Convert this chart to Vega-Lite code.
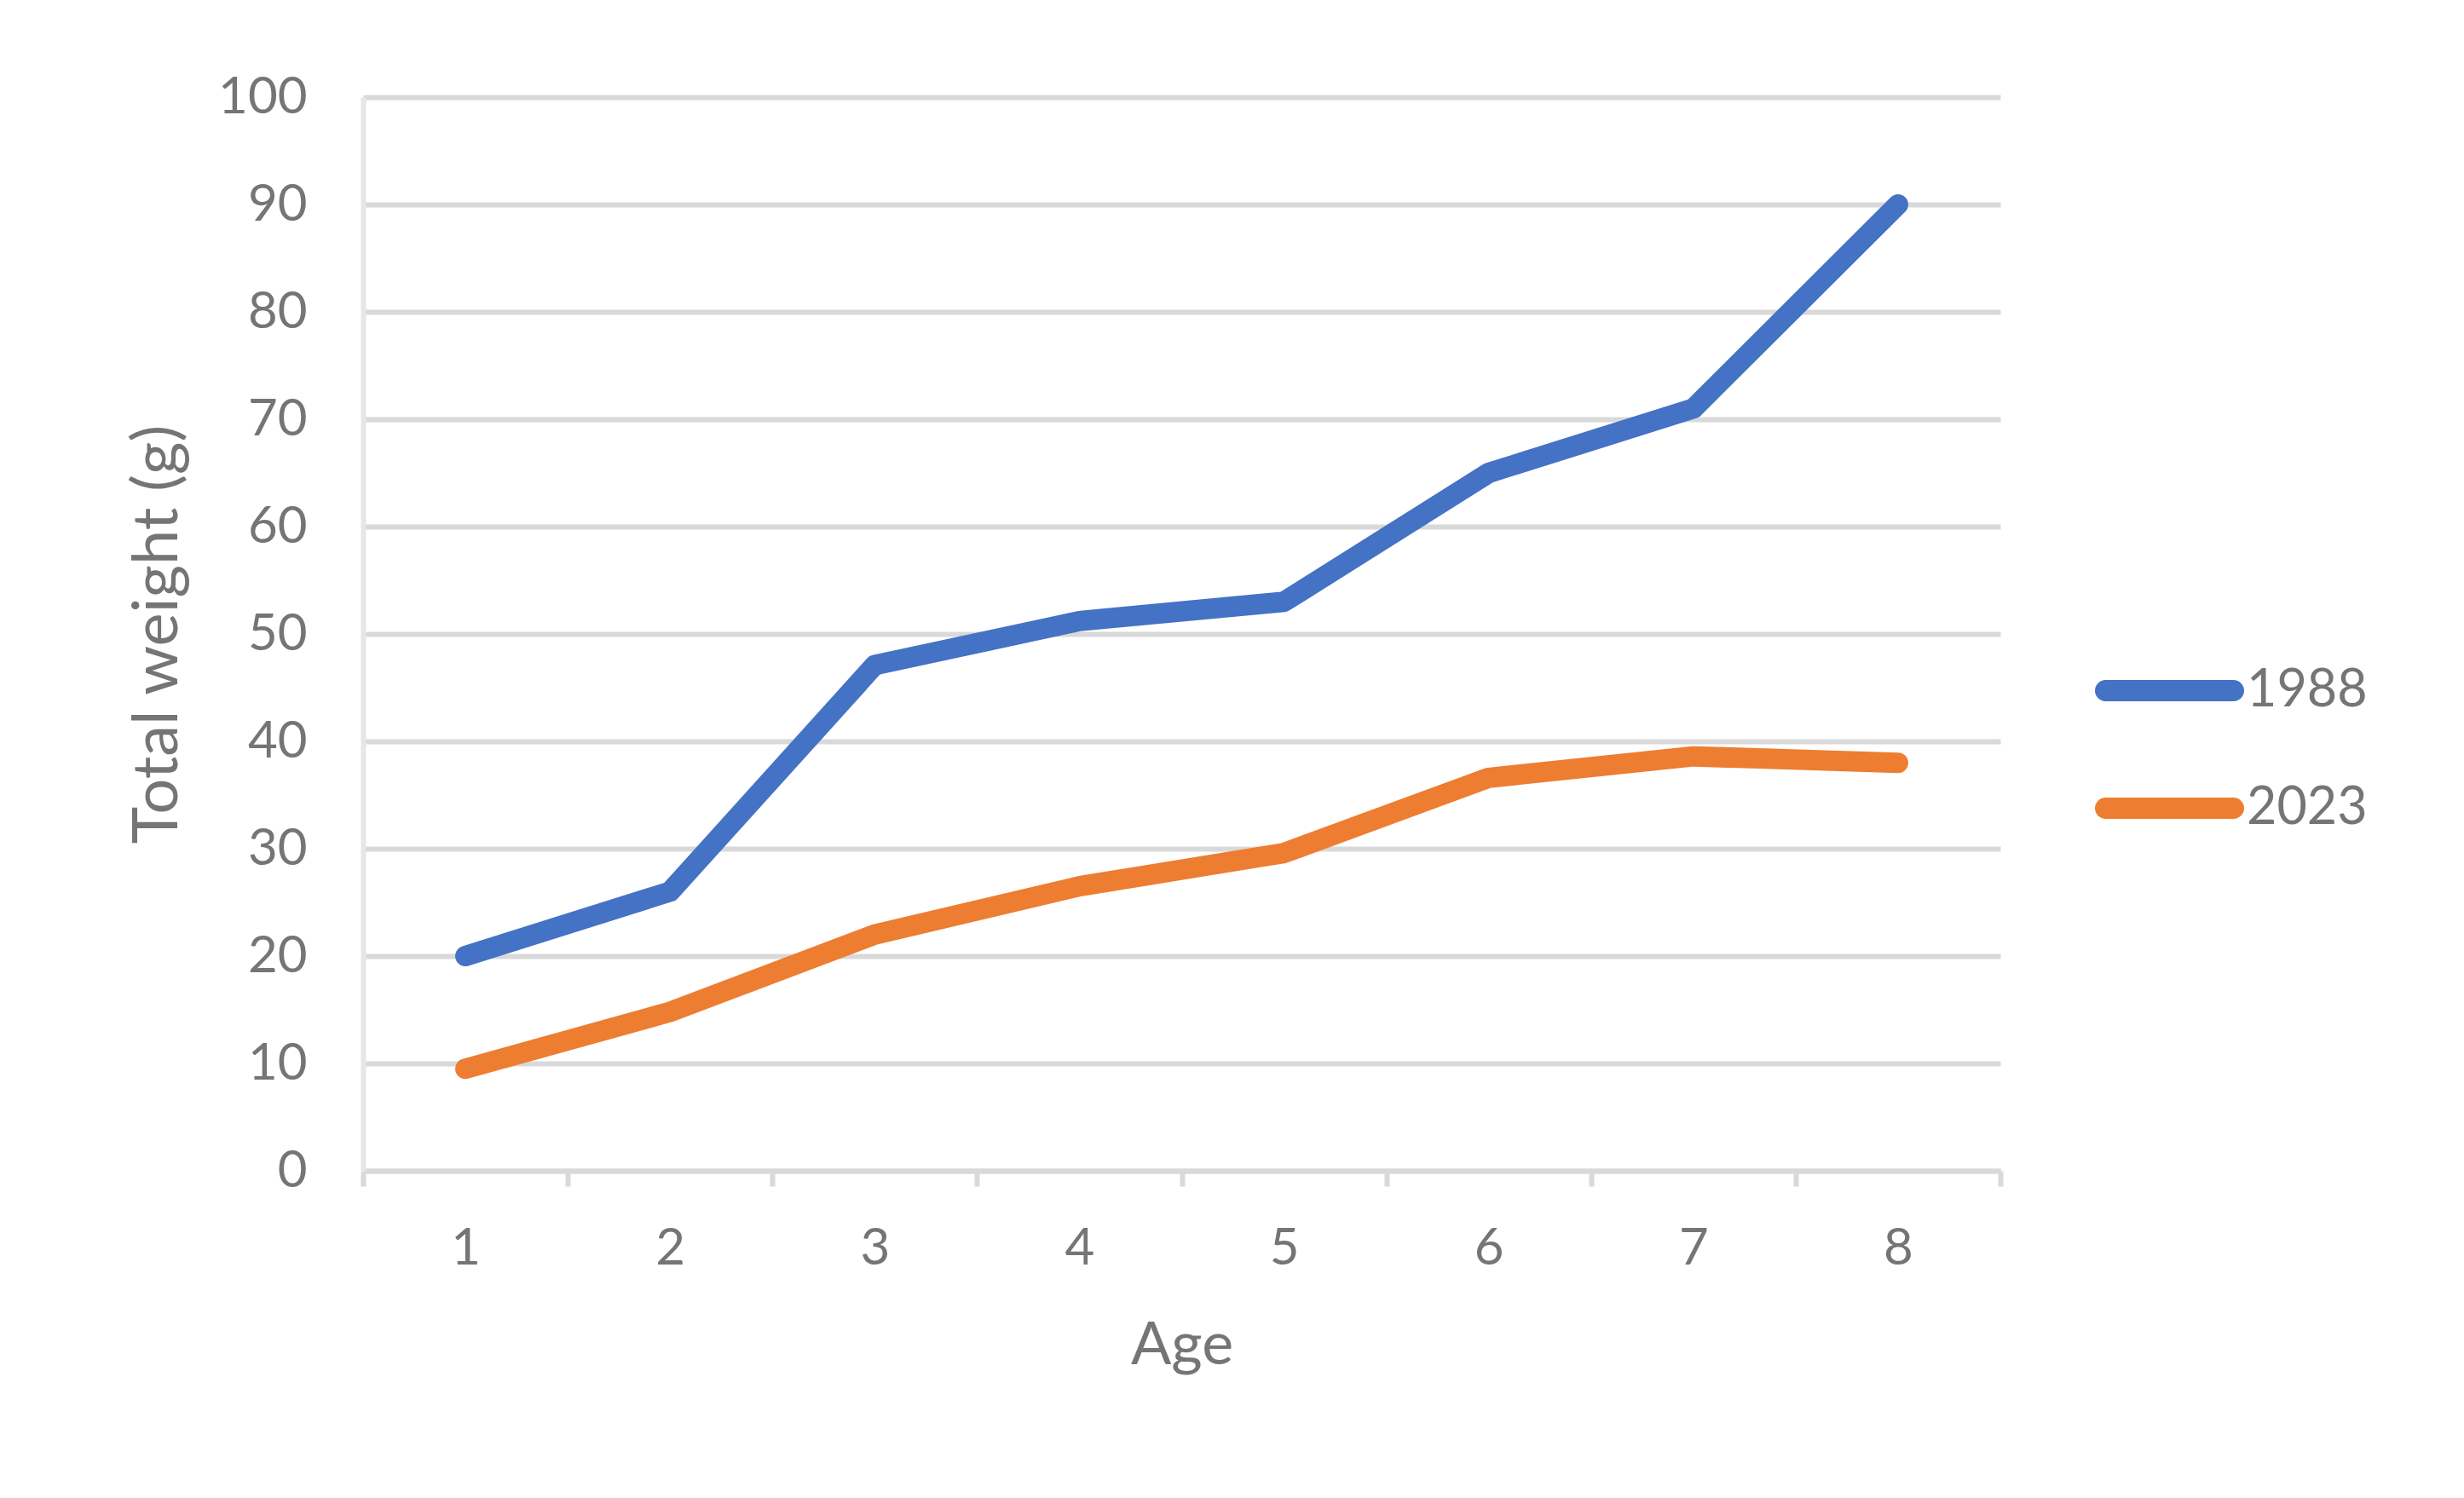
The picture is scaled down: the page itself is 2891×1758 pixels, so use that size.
{
  "$schema": "https://vega.github.io/schema/vega-lite/v6.json",
  "width": 1921,
  "height": 1260,
  "autosize": {"type": "none"},
  "padding": {"left": 426, "top": 114, "right": 544, "bottom": 384},
  "background": "white",
  "config": {"view": {"stroke": null}, "font": "Lato"},
  "data": {
    "values": [
      {"age": "1", "year": "1988", "weight": 20},
      {"age": "2", "year": "1988", "weight": 26},
      {"age": "3", "year": "1988", "weight": 47.1},
      {"age": "4", "year": "1988", "weight": 51.2},
      {"age": "5", "year": "1988", "weight": 53},
      {"age": "6", "year": "1988", "weight": 65},
      {"age": "7", "year": "1988", "weight": 71},
      {"age": "8", "year": "1988", "weight": 90},
      {"age": "1", "year": "2023", "weight": 9.5},
      {"age": "2", "year": "2023", "weight": 14.8},
      {"age": "3", "year": "2023", "weight": 22},
      {"age": "4", "year": "2023", "weight": 26.5},
      {"age": "5", "year": "2023", "weight": 29.6},
      {"age": "6", "year": "2023", "weight": 36.6},
      {"age": "7", "year": "2023", "weight": 38.6},
      {"age": "8", "year": "2023", "weight": 38}
    ]
  },
  "mark": {"type": "line", "strokeWidth": 24, "strokeCap": "round", "strokeJoin": "round"},
  "encoding": {
    "x": {
      "field": "age",
      "type": "ordinal",
      "bandPosition": 0.5,
      "scale": {"type": "band", "paddingInner": 0, "paddingOuter": 0},
      "axis": {
        "title": "Age",
        "tickBand": "extent",
        "labelAngle": 0,
        "grid": false,
        "domainColor": "#d9d9d9",
        "domainWidth": 6,
        "tickColor": "#d9d9d9",
        "tickWidth": 6,
        "tickSize": 18,
        "labelFontSize": 60,
        "labelColor": "#757575",
        "labelPadding": 44,
        "titleFontSize": 70,
        "titleFontWeight": "normal",
        "titleColor": "#757575",
        "titlePadding": 50
      }
    },
    "y": {
      "field": "weight",
      "type": "quantitative",
      "scale": {"domain": [0, 100], "nice": false},
      "axis": {
        "title": "Total weight (g)",
        "values": [0, 10, 20, 30, 40, 50, 60, 70, 80, 90, 100],
        "ticks": false,
        "tickSize": 0,
        "domainColor": "#e6e6e6",
        "domainWidth": 6,
        "gridColor": "#d9d9d9",
        "gridWidth": 6,
        "labelFontSize": 60,
        "labelColor": "#757575",
        "labelPadding": 66,
        "titleFontSize": 74,
        "titleFontWeight": "normal",
        "titleColor": "#757575",
        "titlePadding": 32
      }
    },
    "color": {
      "field": "year",
      "type": "nominal",
      "scale": {"domain": ["1988", "2023"], "range": ["#4472C4", "#ED7D31"]},
      "legend": {
        "title": null,
        "orient": "none",
        "legendX": 2032,
        "legendY": 609,
        "symbolType": "stroke",
        "symbolSize": 22500,
        "symbolStrokeWidth": 25,
        "labelFontSize": 61,
        "labelColor": "#757575",
        "labelOffset": 3,
        "rowPadding": -7,
        "padding": 0,
        "encode": {"symbols": {"update": {"strokeCap": {"value": "round"}}}}
      }
    }
  }
}
